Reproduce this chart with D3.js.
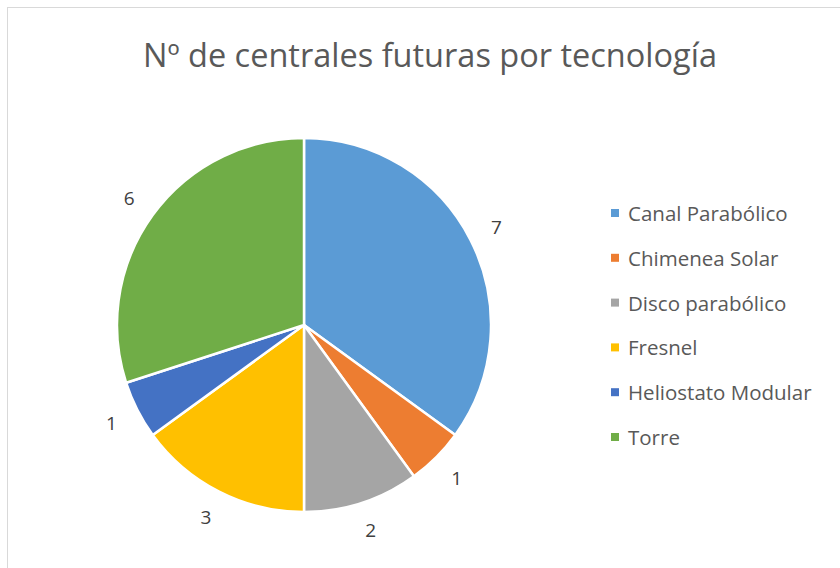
<!DOCTYPE html>
<html>
<head>
<meta charset="utf-8">
<script src="https://cdn.jsdelivr.net/npm/d3@7"></script>
<style>
  body { margin: 0; background: #fff; }
  svg { display: block; font-family: "Open Sans", "Liberation Sans", sans-serif; }
</style>
</head>
<body>
<div id="chart"></div>
<script>
// Chart data
const categories = ['Canal Parabólico', 'Chimenea Solar', 'Disco parabólico', 'Fresnel', 'Heliostato Modular', 'Torre'];
const values = [7, 1, 2, 3, 1, 6];
const colors = ['#5B9BD5', '#ED7D31', '#A5A5A5', '#FFC000', '#4472C4', '#70AD47'];
const title = 'Nº de centrales futuras por tecnología';

const width = 840, height = 568;
const cx = 304, cy = 325, radius = 187, labelRadius = 216;

const svg = d3.select('#chart').append('svg')
    .attr('width', width)
    .attr('height', height);

// Chart frame
svg.append('rect')
    .attr('x', 7.5).attr('y', 7.5)
    .attr('width', width).attr('height', height)
    .attr('fill', '#fff')
    .attr('stroke', '#d9d9d9');

// Title
svg.append('text')
    .attr('x', 430).attr('y', 67)
    .attr('text-anchor', 'middle')
    .attr('font-size', 32.5)
    .attr('fill', '#595959')
    .text(title);

// Pie
const pie = d3.pie().sort(null).value(d => d.value);
const arcs = pie(categories.map((c, i) => ({ name: c, value: values[i], color: colors[i] })));
const arc = d3.arc().innerRadius(0).outerRadius(radius);
const labelArc = d3.arc().innerRadius(labelRadius).outerRadius(labelRadius);

const g = svg.append('g').attr('transform', `translate(${cx}, ${cy})`);

g.selectAll('path')
    .data(arcs)
    .enter().append('path')
    .attr('d', arc)
    .attr('fill', d => d.data.color)
    .attr('stroke', '#fff')
    .attr('stroke-width', 2.5)
    .attr('stroke-linejoin', 'round');

g.selectAll('.label')
    .data(arcs)
    .enter().append('text')
    .attr('class', 'label')
    .attr('transform', d => `translate(${labelArc.centroid(d)})`)
    .attr('text-anchor', 'middle')
    .attr('dominant-baseline', 'central')
    .attr('font-size', 19)
    .attr('fill', '#404040')
    .text(d => d.data.value);

// Legend
const legend = svg.append('g').attr('transform', 'translate(611, 213)');
const rows = legend.selectAll('g')
    .data(categories)
    .enter().append('g')
    .attr('transform', (d, i) => `translate(0, ${i * 44.8})`);

rows.append('rect')
    .attr('x', 0).attr('y', -4)
    .attr('width', 8).attr('height', 8)
    .attr('fill', (d, i) => colors[i]);

rows.append('text')
    .attr('x', 17).attr('y', 0)
    .attr('dominant-baseline', 'central')
    .attr('font-size', 20.5)
    .attr('fill', '#595959')
    .text(d => d);
</script>
</body>
</html>
